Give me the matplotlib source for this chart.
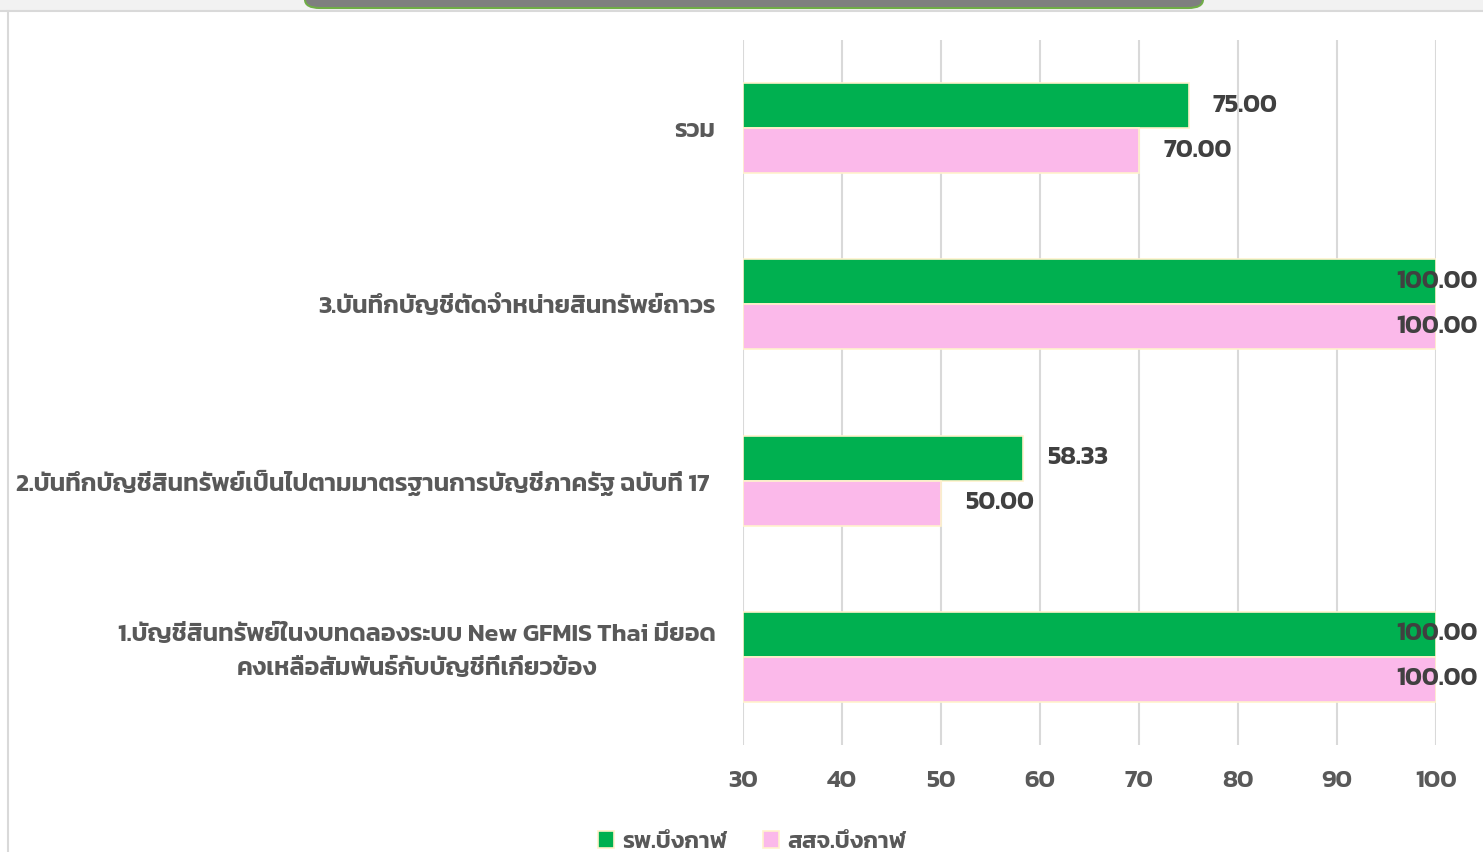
import matplotlib
matplotlib.use("Agg")
import matplotlib.pyplot as plt
from matplotlib.patches import FancyBboxPatch, Rectangle
import numpy as np

plt.rcParams['font.family'] = ['Kanit', 'Prompt', 'DejaVu Sans']

categories = [
    "1.บัญชีสินทรัพย์ในงบทดลองระบบ New GFMIS Thai มียอด\nคงเหลือสัมพันธ์กับบัญชีที่เกี่ยวข้อง",
    "2.บันทึกบัญชีสินทรัพย์เป็นไปตามมาตรฐานการบัญชีภาครัฐ ฉบับที่ 17 ",
    "3.บันทึกบัญชีตัดจำหน่ายสินทรัพย์ถาวร",
    "รวม",
]
hospital = [100.00, 58.33, 100.00, 75.00]
office = [100.00, 50.00, 100.00, 70.00]
series_names = ["รพ.บึงกาฬ", "สสจ.บึงกาฬ"]
xticks = [30, 40, 50, 60, 70, 80, 90, 100]

green = "#00B050"
pink = "#FBB9EA"
edge = "#FFF2CC"
fw = "semibold"

fig = plt.figure(figsize=(14.83, 8.52), dpi=100)
ax = fig.add_axes([743 / 1483, 1 - 745 / 852, 693 / 1483, 705 / 852])

y = np.arange(len(categories))
h = 0.255
ax.barh(y + h / 2, [v - 30 for v in hospital], left=30, height=h, color=green,
        edgecolor=edge, linewidth=1.2, label=series_names[0], zorder=3)
ax.barh(y - h / 2, [v - 30 for v in office], left=30, height=h, color=pink,
        edgecolor=edge, linewidth=1.2, label=series_names[1], zorder=3)

for vals, off in [(hospital, h / 2), (office, -h / 2)]:
    for i, v in enumerate(vals):
        if v >= 99:
            ax.annotate(f"{v:.2f}", (100, y[i] + off), xytext=(42, 0),
                        textcoords="offset pixels", ha="right", va="center",
                        fontsize=18.5, fontweight=fw, color="#404040",
                        zorder=4, annotation_clip=False)
        else:
            ax.annotate(f"{v:.2f}", (v, y[i] + off), xytext=(24, 0),
                        textcoords="offset pixels", ha="left", va="center",
                        fontsize=18.5, fontweight=fw, color="#404040", zorder=4)

ax.set_xlim(30, 100)
ax.set_ylim(-0.5, 3.5)
ax.set_xticks(xticks)
ax.set_xticklabels([str(t) for t in xticks], fontsize=18, fontweight=fw, color="#595959")
ax.set_yticks(y)
# the two-line label sits a little higher in the original, so draw it separately
ax.set_yticklabels([""] + categories[1:], fontsize=18, fontweight=fw, color="#595959")
ax.annotate(categories[0], (0, y[0]), xycoords=("axes fraction", "data"),
            xytext=(-27, 5), textcoords="offset pixels", ha="right", va="center",
            multialignment="center", linespacing=1.7, fontsize=18, fontweight=fw,
            color="#595959", annotation_clip=False)
ax.tick_params(axis="x", length=0, pad=18)
ax.tick_params(axis="y", length=0, pad=20)
ax.grid(axis="x", color="#D9D9D9", linewidth=1.5, zorder=0)
for s in ax.spines.values():
    s.set_visible(False)

leg = fig.legend(loc="center", bbox_to_anchor=(752 / 1483, 1 - 842 / 852), ncol=2,
                 frameon=False, fontsize=17, handlelength=0.7, handleheight=0.7,
                 columnspacing=1.5, handletextpad=0.35)
for t in leg.get_texts():
    t.set_color("#595959")
    t.set_fontweight(fw)

# screenshot frame
fig.patches.append(Rectangle((0, 1 - 10 / 852), 1, 10 / 852, transform=fig.transFigure,
                             facecolor="#F2F2F2", edgecolor="none", zorder=0))
fig.add_artist(plt.Line2D([0, 1], [1 - 10.5 / 852] * 2, color="#D9D9D9", lw=1.5))
fig.add_artist(plt.Line2D([7.5 / 1483] * 2, [0, 1 - 10.5 / 852], color="#D9D9D9", lw=1.5))
fig.patches.append(FancyBboxPatch((305 / 1483, 1 - 8 / 852), 898 / 1483, 30 / 852,
                                  boxstyle="round,pad=0,rounding_size=0.01",
                                  transform=fig.transFigure, facecolor="#7F7F7F",
                                  edgecolor="#70AD47", linewidth=1.5, zorder=1))

fig.savefig("out.png")
